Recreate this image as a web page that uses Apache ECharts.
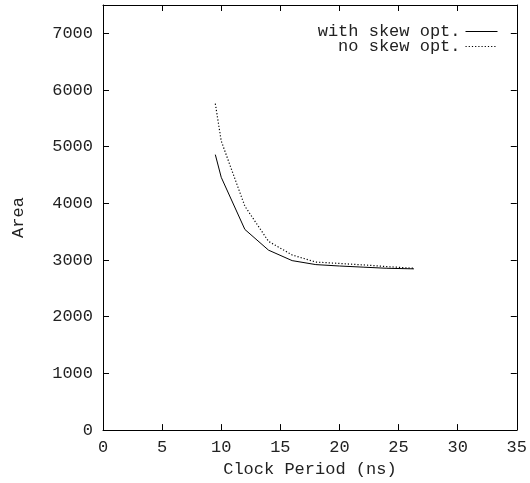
<!DOCTYPE html>
<html>
<head>
<meta charset="utf-8">
<script src="https://cdn.jsdelivr.net/npm/echarts@6/dist/echarts.min.js"></script>
<style>html,body{margin:0;padding:0;background:#fff}#c{width:530px;height:483px}</style>
</head>
<body>
<div id="c"></div>
<script>
const periods = [9.5, 10, 12, 14, 16, 18, 20, 22, 24, 26.3];
const withSkew = [4860, 4460, 3540, 3175, 2990, 2920, 2895, 2875, 2855, 2845];
const noSkew = [5760, 5100, 3950, 3330, 3090, 2965, 2940, 2915, 2885, 2855];
const seriesNames = ['with skew opt.', 'no skew opt.'];
const xTitle = 'Clock Period (ns)';
const yTitle = 'Area';

const font = 'Liberation Mono';
const txt = { fontFamily: font, fontSize: 17, color: '#222' };
const pairs = ys => periods.map((x, i) => [x, ys[i]]);

const chart = echarts.init(document.getElementById('c'), null, { renderer: 'canvas' });
chart.setOption({
  animation: false,
  backgroundColor: '#fff',
  grid: { left: 103, right: 10, top: 5, bottom: 49, containLabel: false },
  legend: {
    data: seriesNames, orient: 'vertical', right: 32, top: 23, align: 'right',
    itemWidth: 32, itemHeight: 12, itemGap: -2, selectedMode: false, padding: 0,
    itemStyle: { opacity: 0 },
    lineStyle: { width: 1 },
    textStyle: { ...txt, width: 150, align: 'right', lineHeight: 12 }
  },
  xAxis: [
    { type: 'value', min: 0, max: 35, interval: 5, position: 'bottom',
      name: xTitle, nameLocation: 'middle', nameGap: 25, nameTextStyle: txt,
      axisLine: { show: true, lineStyle: { color: '#000', width: 1 } },
      axisTick: { show: true, inside: true, length: 6, lineStyle: { color: '#000' } },
      axisLabel: { ...txt, margin: 9 },
      splitLine: { show: false } },
    { type: 'value', min: 0, max: 35, interval: 5, position: 'top',
      axisLine: { show: true, onZero: false, lineStyle: { color: '#000', width: 1 } },
      axisTick: { show: true, inside: true, length: 6, lineStyle: { color: '#000' } },
      axisLabel: { show: false }, splitLine: { show: false } }
  ],
  yAxis: [
    { type: 'value', min: 0, max: 7500, interval: 1000, position: 'left',
      name: yTitle, nameLocation: 'middle', nameGap: 76, nameRotate: 90, nameTextStyle: txt,
      axisLine: { show: true, lineStyle: { color: '#000', width: 1 } },
      axisTick: { show: true, inside: true, length: 6, lineStyle: { color: '#000' } },
      axisLabel: { ...txt, margin: 10, showMaxLabel: false, formatter: v => String(v) },
      splitLine: { show: false } },
    { type: 'value', min: 0, max: 7500, interval: 1000, position: 'right',
      axisLine: { show: true, onZero: false, lineStyle: { color: '#000', width: 1 } },
      axisTick: { show: true, inside: true, length: 6, lineStyle: { color: '#000' } },
      axisLabel: { show: false }, splitLine: { show: false } }
  ],
  series: [
    { name: seriesNames[0], type: 'line', data: pairs(withSkew), symbol: 'none', smooth: false,
      color: '#000', lineStyle: { color: '#000', width: 1 } },
    { name: seriesNames[1], type: 'line', data: pairs(noSkew), symbol: 'none', smooth: false,
      color: '#000', lineStyle: { color: '#000', width: 1.2, type: [1.2, 2] } }
  ]
});
</script>
</body>
</html>
